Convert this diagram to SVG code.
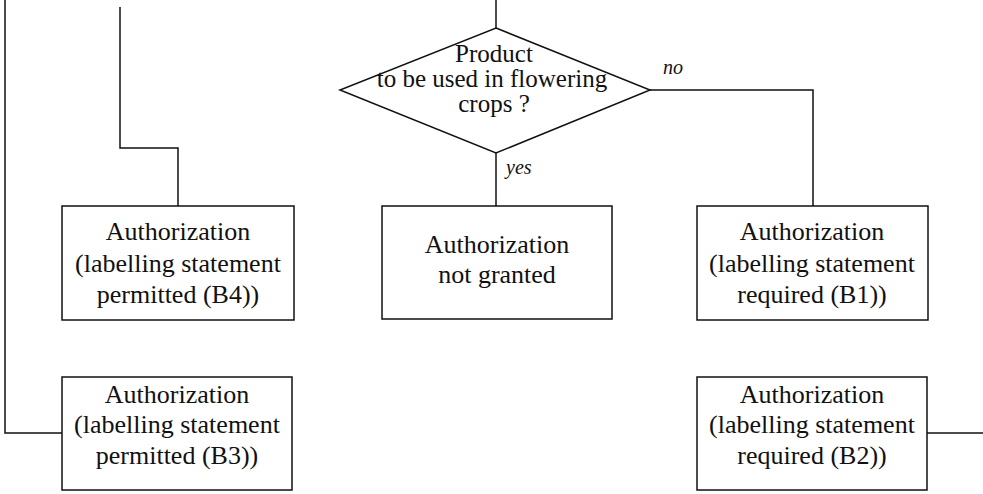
<svg xmlns="http://www.w3.org/2000/svg" width="983" height="494" viewBox="0 0 983 494">
<style>
.box{fill:#fff;stroke:#111;stroke-width:1.5}
.ln{fill:none;stroke:#111;stroke-width:1.5}
.t{font-family:"Liberation Serif","Times New Roman",serif;font-size:26px;fill:#111;text-anchor:middle}
.d{font-size:25px}
.lb{font-family:"Liberation Serif","Times New Roman",serif;font-size:20px;font-style:italic;fill:#111}
</style>
<rect width="983" height="494" fill="#fff"/>
<g id="connectors">
<path class="ln" d="M5,0 V433 H62"/>
<path class="ln" d="M120,7 V148 H178 V206"/>
<path class="ln" d="M496,0 V28"/>
<path class="ln" d="M496,153 V206"/>
<path class="ln" d="M650,90 H813 V206"/>
<path class="ln" d="M927,433 H983"/>
<text class="lb" x="663" y="74">no</text>
<text class="lb" x="506" y="174">yes</text>
</g>
<g id="decision">
<polygon class="box" points="496,28 650,90 496,153 340,90"/>
<text class="t d" x="494" y="62">Product</text>
<text class="t d" x="492" y="87">to be used in flowering</text>
<text class="t d" x="494" y="112">crops ?</text>
</g>
<g id="b4">
<rect class="box" x="62" y="206" width="232" height="114"/>
<text class="t" x="178" y="240">Authorization</text>
<text class="t" x="178" y="272">(labelling statement</text>
<text class="t" x="178" y="303">permitted (B4))</text>
</g>
<g id="notgranted">
<rect class="box" x="382" y="206" width="230" height="113"/>
<text class="t" x="497" y="253">Authorization</text>
<text class="t" x="497" y="283">not granted</text>
</g>
<g id="b1">
<rect class="box" x="697" y="206" width="231" height="114"/>
<text class="t" x="812" y="240">Authorization</text>
<text class="t" x="812" y="272">(labelling statement</text>
<text class="t" x="812" y="303">required (B1))</text>
</g>
<g id="b3">
<rect class="box" x="62" y="377" width="230" height="113"/>
<text class="t" x="177" y="403">Authorization</text>
<text class="t" x="177" y="433">(labelling statement</text>
<text class="t" x="177" y="464">permitted (B3))</text>
</g>
<g id="b2">
<rect class="box" x="697" y="377" width="230" height="113"/>
<text class="t" x="812" y="403">Authorization</text>
<text class="t" x="812" y="433">(labelling statement</text>
<text class="t" x="812" y="464">required (B2))</text>
</g>
</svg>
